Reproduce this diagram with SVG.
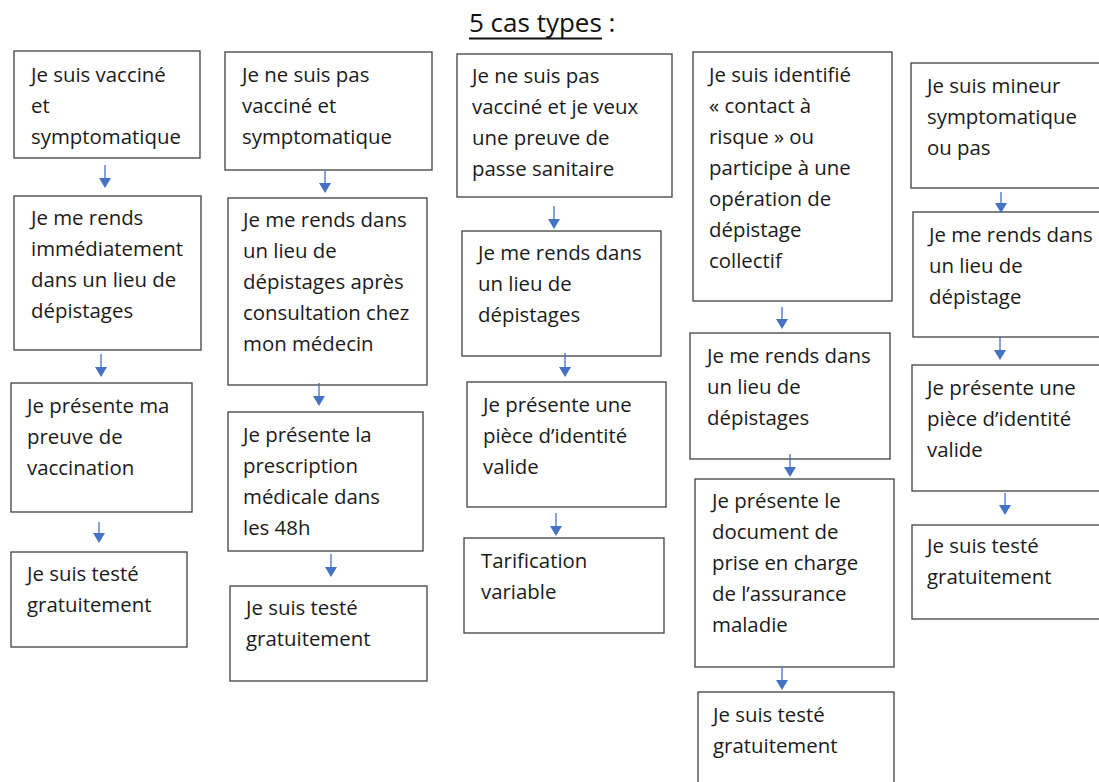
<svg xmlns="http://www.w3.org/2000/svg" width="1099" height="782" viewBox="0 0 1099 782">
<style>
.box{fill:#fff;stroke:#404040;stroke-width:1.3}
.t{font-family:"Open Sans","Liberation Sans",sans-serif;font-size:20.4px;fill:#1a1a1a}
.title{font-family:"Open Sans","Liberation Sans",sans-serif;font-size:26px;fill:#111}
.arr{stroke:#4472C4;stroke-width:1.3;fill:none}
</style>
<defs>
<marker id="ah" viewBox="0 0 10 12" refX="0" refY="6" markerWidth="10" markerHeight="12" markerUnits="userSpaceOnUse" orient="auto">
<path d="M0,0 L10,6 L0,12 z" fill="#4472C4"/>
</marker>
</defs>
<rect width="1099" height="782" fill="#fff"/>
<g id="title">
<text class="title" x="469" y="32">5 cas types :</text>
<line x1="469" y1="38.5" x2="602" y2="38.5" stroke="#111" stroke-width="2"/>
</g>
<g id="A1"><rect class="box" x="14" y="51" width="186" height="107"/>
<text class="t"><tspan x="31" y="82">Je suis vacciné</tspan><tspan x="31" y="113">et</tspan><tspan x="31" y="144">symptomatique</tspan></text></g>
<g id="A2"><rect class="box" x="14" y="196" width="187" height="154"/>
<text class="t"><tspan x="31" y="225">Je me rends</tspan><tspan x="31" y="256">immédiatement</tspan><tspan x="31" y="287">dans un lieu de</tspan><tspan x="31" y="318">dépistages</tspan></text></g>
<g id="A3"><rect class="box" x="11" y="383" width="181" height="129"/>
<text class="t"><tspan x="27" y="413">Je présente ma</tspan><tspan x="27" y="444">preuve de</tspan><tspan x="27" y="475">vaccination</tspan></text></g>
<g id="A4"><rect class="box" x="11" y="552" width="176" height="95"/>
<text class="t"><tspan x="27" y="581">Je suis testé</tspan><tspan x="27" y="612">gratuitement</tspan></text></g>

<g id="B1"><rect class="box" x="225" y="52" width="207" height="118"/>
<text class="t"><tspan x="242" y="82">Je ne suis pas</tspan><tspan x="242" y="113">vacciné et</tspan><tspan x="242" y="144">symptomatique</tspan></text></g>
<g id="B2"><rect class="box" x="228" y="198" width="199" height="187"/>
<text class="t"><tspan x="243" y="227">Je me rends dans</tspan><tspan x="243" y="258">un lieu de</tspan><tspan x="243" y="289">dépistages après</tspan><tspan x="243" y="320">consultation chez</tspan><tspan x="243" y="351">mon médecin</tspan></text></g>
<g id="B3"><rect class="box" x="228" y="412" width="195" height="139"/>
<text class="t"><tspan x="243" y="442">Je présente la</tspan><tspan x="243" y="473">prescription</tspan><tspan x="243" y="504">médicale dans</tspan><tspan x="243" y="535">les 48h</tspan></text></g>
<g id="B4"><rect class="box" x="230" y="586" width="197" height="95"/>
<text class="t"><tspan x="246" y="615">Je suis testé</tspan><tspan x="246" y="646">gratuitement</tspan></text></g>

<g id="C1"><rect class="box" x="457" y="54" width="215" height="143"/>
<text class="t"><tspan x="472" y="83">Je ne suis pas</tspan><tspan x="472" y="114">vacciné et je veux</tspan><tspan x="472" y="145">une preuve de</tspan><tspan x="472" y="176">passe sanitaire</tspan></text></g>
<g id="C2"><rect class="box" x="462" y="231" width="199" height="125"/>
<text class="t"><tspan x="478" y="260">Je me rends dans</tspan><tspan x="478" y="291">un lieu de</tspan><tspan x="478" y="322">dépistages</tspan></text></g>
<g id="C3"><rect class="box" x="467" y="382" width="199" height="125"/>
<text class="t"><tspan x="483" y="412">Je présente une</tspan><tspan x="483" y="443">pièce d’identité</tspan><tspan x="483" y="474">valide</tspan></text></g>
<g id="C4"><rect class="box" x="464" y="538" width="200" height="95"/>
<text class="t"><tspan x="481" y="568">Tarification</tspan><tspan x="481" y="599">variable</tspan></text></g>

<g id="D1"><rect class="box" x="693" y="52" width="199" height="249"/>
<text class="t"><tspan x="709" y="82">Je suis identifié</tspan><tspan x="709" y="113">« contact à</tspan><tspan x="709" y="144">risque » ou</tspan><tspan x="709" y="175">participe à une</tspan><tspan x="709" y="206">opération de</tspan><tspan x="709" y="237">dépistage</tspan><tspan x="709" y="268">collectif</tspan></text></g>
<g id="D2"><rect class="box" x="690" y="333" width="200" height="126"/>
<text class="t"><tspan x="707" y="363">Je me rends dans</tspan><tspan x="707" y="394">un lieu de</tspan><tspan x="707" y="425">dépistages</tspan></text></g>
<g id="D3"><rect class="box" x="695" y="479" width="199" height="188"/>
<text class="t"><tspan x="712" y="508">Je présente le</tspan><tspan x="712" y="539">document de</tspan><tspan x="712" y="570">prise en charge</tspan><tspan x="712" y="601">de l’assurance</tspan><tspan x="712" y="632">maladie</tspan></text></g>
<g id="D4"><rect class="box" x="698" y="692" width="196" height="100"/>
<text class="t"><tspan x="713" y="722">Je suis testé</tspan><tspan x="713" y="753">gratuitement</tspan></text></g>

<g id="E1"><rect class="box" x="911" y="63" width="200" height="125"/>
<text class="t"><tspan x="927" y="93">Je suis mineur</tspan><tspan x="927" y="124">symptomatique</tspan><tspan x="927" y="155">ou pas</tspan></text></g>
<g id="E2"><rect class="box" x="913" y="212" width="200" height="125"/>
<text class="t"><tspan x="929" y="242">Je me rends dans</tspan><tspan x="929" y="273">un lieu de</tspan><tspan x="929" y="304">dépistage</tspan></text></g>
<g id="E3"><rect class="box" x="912" y="365" width="200" height="126"/>
<text class="t"><tspan x="927" y="395">Je présente une</tspan><tspan x="927" y="426">pièce d’identité</tspan><tspan x="927" y="457">valide</tspan></text></g>
<g id="E4"><rect class="box" x="912" y="525" width="200" height="94"/>
<text class="t"><tspan x="927" y="553">Je suis testé</tspan><tspan x="927" y="584">gratuitement</tspan></text></g>

<g id="connectors" class="arr" marker-end="url(#ah)">
<line x1="105" y1="165" x2="105" y2="178"/>
<line x1="101" y1="354" x2="101" y2="367"/>
<line x1="99" y1="522" x2="99" y2="533"/>
<line x1="325" y1="171" x2="325" y2="183"/>
<line x1="319" y1="383" x2="319" y2="396"/>
<line x1="331" y1="554" x2="331" y2="567"/>
<line x1="554" y1="206" x2="554" y2="219"/>
<line x1="565" y1="353" x2="565" y2="367"/>
<line x1="556" y1="513" x2="556" y2="526"/>
<line x1="782" y1="307" x2="782" y2="319"/>
<line x1="790" y1="454" x2="790" y2="467"/>
<line x1="782" y1="667" x2="782" y2="680"/>
<line x1="1001" y1="192" x2="1001" y2="203"/>
<line x1="1000" y1="337" x2="1000" y2="350"/>
<line x1="1005" y1="493" x2="1005" y2="505"/>
</g>
</svg>
